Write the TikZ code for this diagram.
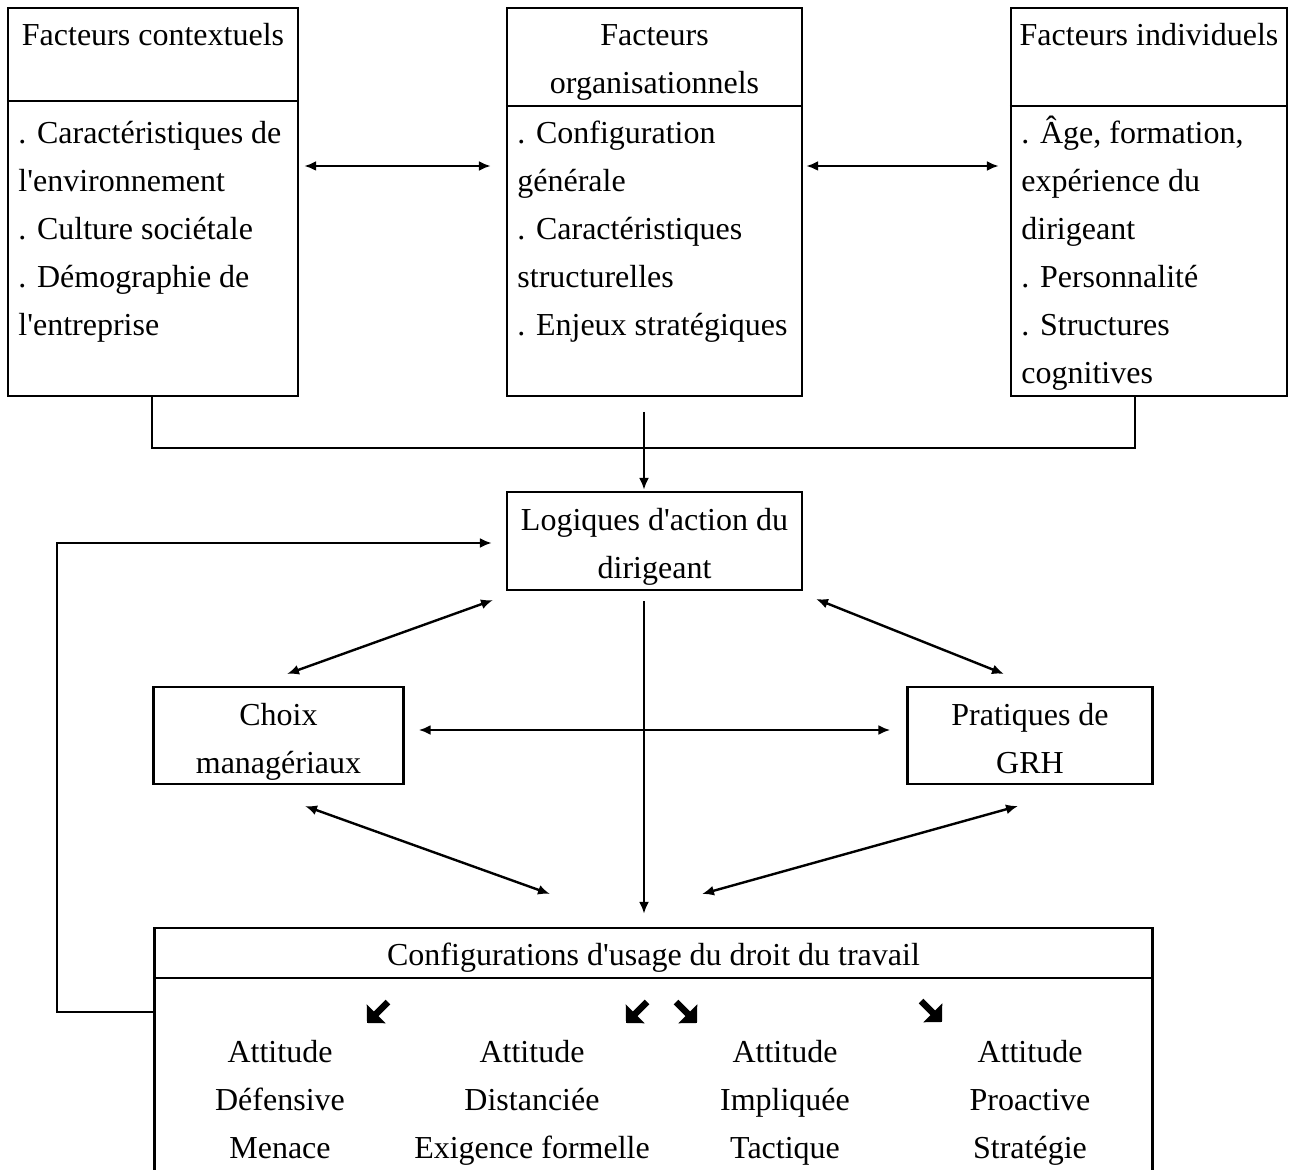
\documentclass[tikz,border=0pt]{standalone}
\usepackage{fontspec}
\setmainfont{Liberation Serif}[Ligatures=TeXOff]
\usetikzlibrary{arrows.meta}
\begin{document}
\begin{tikzpicture}[x=0.5pt,y=-0.5pt,
  >={Latex[length=6pt,width=5pt]},
  box/.style={draw, line width=1.2pt, inner sep=0pt},
  txt/.style={font=\fontsize{16}{24}\selectfont, inner sep=0pt, align=left},
  ctr/.style={font=\fontsize{16}{24}\selectfont, inner sep=0pt, align=center},
  ln/.style={line width=1.3pt},
  arr/.style={line width=1.1pt, ->},
  conn/.style={line width=1.2pt, <->},
  bold arrow/.style={line width=3.2pt, -{Triangle[length=6.5pt,width=13pt]}}]
\useasboundingbox (0,0) rectangle (1295,1170);

% --- top boxes
\node[box, minimum width=145pt, minimum height=194pt] (ctx) at (153,202) {};
\draw[ln] (ctx.west |- 0,101) -- (ctx.east |- 0,101);
\node[ctr] (ctxT) at (153,36) {\strut Facteurs contextuels};
\node[txt, anchor=west] (ctxB) at (18,230) {\strut . Caractéristiques de\\\strut l'environnement\\\strut . Culture sociétale\\\strut . Démographie de\\\strut l'entreprise};

\node[box, minimum width=147.5pt, minimum height=194pt] (org) at (654.5,202) {};
\draw[ln] (org.west |- 0,106) -- (org.east |- 0,106);
\node[ctr] (orgT) at (654.5,60) {\strut Facteurs\\\strut organisationnels};
\node[txt, anchor=west] (orgB) at (517,230) {\strut . Configuration\\\strut générale\\\strut . Caractéristiques\\\strut structurelles\\\strut . Enjeux stratégiques};

\node[box, minimum width=138pt, minimum height=194pt] (ind) at (1149,202) {};
\draw[ln] (ind.west |- 0,106) -- (ind.east |- 0,106);
\node[ctr] (indT) at (1149,36) {\strut Facteurs individuels};
\node[txt, anchor=west] (indB) at (1021,254) {\strut . Âge, formation,\\\strut expérience du\\\strut dirigeant\\\strut . Personnalité\\\strut . Structures\\\strut cognitives};

% --- middle boxes
\node[box, minimum width=147.5pt, minimum height=49pt] (log) at (654.5,541) {};
\node[ctr] (logT) at (654.5,544.5) {\strut Logiques d'action du\\\strut dirigeant};

\node[box, minimum width=125pt, minimum height=48.5pt] (cho) at (278.5,735.5) {};
\node[ctr] (choT) at (278.5,739.5) {\strut Choix\\\strut managériaux};

\node[box, minimum width=122.5pt, minimum height=48.5pt] (pra) at (1030,735.5) {};
\node[ctr] (praT) at (1030,739.5) {\strut Pratiques de\\\strut GRH};

% --- bottom box
\node[box, minimum width=499pt, minimum height=122pt] (cfg) at (653.5,1050) {};
\draw[ln] (cfg.west |- 0,978) -- (cfg.east |- 0,978);
\node[ctr] (cfgT) at (653.5,956) {\strut Configurations d'usage du droit du travail};
\node[ctr] (c1) at (280,1101) {\strut Attitude\\\strut Défensive\\\strut Menace};
\node[ctr] (c2) at (532,1101) {\strut Attitude\\\strut Distanciée\\\strut Exigence formelle};
\node[ctr] (c3) at (785,1101) {\strut Attitude\\\strut Impliquée\\\strut Tactique};
\node[ctr] (c4) at (1030,1101) {\strut Attitude\\\strut Proactive\\\strut Stratégie};

\draw[bold arrow] (388,1002) -- (367,1023);
\draw[bold arrow] (647,1002) -- (626,1023);
\draw[bold arrow] (676,1002) -- (697,1023);
\draw[bold arrow] (921,1001) -- (942,1022);

% --- connectors
\draw[conn, shorten <=2.5pt, shorten >=7.5pt] (ctx.east |- 0,166) -- (org.west |- 0,166);
\draw[conn, shorten <=1.5pt, shorten >=5.5pt] (org.east |- 0,166) -- (ind.west |- 0,166);

\draw[ln] (ctx.south -| 152,0) -- (152,448) -- (1135,448) -- (ind.south -| 1135,0);
\coordinate (j) at (644,412);
\draw[arr, shorten >=0.5pt] (j) -- (log.north -| 644,0);

\draw[arr, shorten <=5pt, shorten >=6.5pt] (log.south -| 644,0) -- (cfg.north -| 644,0);

\draw[arr, shorten >=7pt] (cfg.west |- 0,1012) -- (57,1012) -- (57,543) -- (log.west |- 0,543);

\draw[conn, shorten <=7pt, shorten >=8pt] (cho.east |- 0,730) -- (pra.west |- 0,730);

\coordinate (d1a) at (493,600); \coordinate (d1b) at (287,674);
\coordinate (d2a) at (816,599); \coordinate (d2b) at (1004,674);
\coordinate (d3a) at (305,806); \coordinate (d3b) at (550,894);
\coordinate (d4a) at (1018,806); \coordinate (d4b) at (702,894);
\draw[conn] (d1a) -- (d1b);
\draw[conn] (d2a) -- (d2b);
\draw[conn] (d3a) -- (d3b);
\draw[conn] (d4a) -- (d4b);
\end{tikzpicture}
\end{document}
